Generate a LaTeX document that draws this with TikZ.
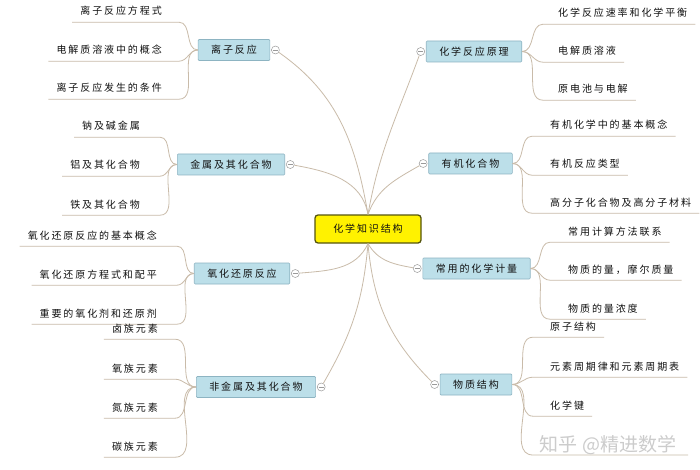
\documentclass[tikz,border=0pt]{standalone}
\usepackage{fontspec}
\setmainfont{Noto Sans CJK SC}[LetterSpace=19]
\newfontfamily\markfont{Noto Sans CJK SC}
\usepackage{xcolor}
\usetikzlibrary{calc, positioning}

\definecolor{topicblue}{HTML}{BCDFE9}
\definecolor{topicline}{HTML}{8DB4C2}
\definecolor{hubline}{HTML}{55550F}
\definecolor{linkgray}{HTML}{C9BBA9}
\definecolor{knobgray}{HTML}{9A9A9A}
\definecolor{inkgray}{HTML}{111111}

\tikzset{
    hub/.style={draw=hubline, fill=yellow, line width=1.3pt, rounded corners=3pt,
        minimum width=106, minimum height=28, text=inkgray, font=\fontsize{10}{12}\selectfont},
    topic/.style={draw=topicline, fill=topicblue, line width=0.6pt, rounded corners=1pt,
        minimum height=21, inner xsep=13, text=inkgray, font=\fontsize{10}{12}\selectfont},
    leaf/.style={inner xsep=0, inner ysep=0, minimum height=21, text height=8.5, text depth=1.5,
        text=inkgray, font=\fontsize{10}{12}\selectfont},
    knob/.style={circle, draw=knobgray, fill=white, line width=0.5pt, inner sep=0, minimum size=8,
        path picture={\draw[knobgray, line width=0.5pt]
            ([xshift=1.5]path picture bounding box.west) -- ([xshift=-1.5]path picture bounding box.east);}},
    link/.style={draw=linkgray, line width=0.8pt}
}

\begin{document}
\begin{tikzpicture}[x=1pt, y=-1pt]
    \useasboundingbox[fill=white] (0, 0) rectangle (700, 470);

    % centre
    \node[hub] (hub) at (368, 229) {化学知识结构};

    % main topics
    \node[topic] (ionic) at (234, 50) {离子反应};
    \node[topic] (metal) at (231, 164.5) {金属及其化合物};
    \node[topic] (redox) at (242, 273.5) {氧化还原反应};
    \node[topic] (nonmetal) at (256, 387) {非金属及其化合物};
    \node[topic] (principle) at (474, 51.5) {化学反应原理};
    \node[topic] (organic) at (470.5, 163.5) {有机化合物};
    \node[topic] (measure) at (476.5, 268.5) {常用的化学计量};
    \node[topic] (structure) at (476, 384.5) {物质结构};

    \foreach \t in {ionic, metal, redox, nonmetal}
        \node[knob, right=1 of \t] (\t-k) {};
    \foreach \t in {principle, organic, measure, structure}
        \node[knob, left=1 of \t] (\t-k) {};

    % links from the centre
    \draw[link] (hub.north) to[out=100, in=-35] (ionic-k);
    \draw[link] (hub.north) to[out=100, in=-10] (metal-k);
    \draw[link] (hub.south) to[out=-115, in=5] (redox-k);
    \draw[link] (hub.south) to[out=-95, in=60] (nonmetal-k);
    \draw[link] (hub.north) to[out=80, in=-110] (principle-k);
    \draw[link] (hub.north) to[out=70, in=-150] (organic-k);
    \draw[link] (hub.south) to[out=-60, in=170] (measure-k);
    \draw[link] (hub.south) to[out=-85, in=135] (structure-k);

    % leaves on the left
    \foreach \y/\txt [count=\i] in {11.5/离子反应方程式, 50.5/电解质溶液中的概念, 88.5/离子反应发生的条件} {
        \node[leaf, anchor=east] (ionic-\i) at (162, \y) {\txt};
        \draw[link] ([xshift=-8]ionic-\i.south west) -- ([xshift=17]ionic-\i.south east) to[out=0, in=180] (ionic.west);
    }
    \foreach \y/\txt [count=\i] in {126.5/钠及碱金属, 165.5/铝及其化合物, 204.5/铁及其化合物} {
        \node[leaf, anchor=east] (metal-\i) at (140, \y) {\txt};
        \draw[link] ([xshift=-8]metal-\i.south west) -- ([xshift=20]metal-\i.south east) to[out=0, in=180] (metal.west);
    }
    \foreach \y/\txt [count=\i] in {235.5/氧化还原反应的基本概念, 274.5/氧化还原方程式和配平, 313.5/重要的氧化剂和还原剂} {
        \node[leaf, anchor=east] (redox-\i) at (157, \y) {\txt};
        \draw[link] ([xshift=-8]redox-\i.south west) -- ([xshift=20]redox-\i.south east) to[out=0, in=180] (redox.west);
    }
    \foreach \y/\txt [count=\i] in {328.5/卤族元素, 368.5/氧族元素, 407.5/氮族元素, 446.5/碳族元素} {
        \node[leaf, anchor=east] (nonmetal-\i) at (158, \y) {\txt};
        \draw[link] ([xshift=-8]nonmetal-\i.south west) -- ([xshift=17]nonmetal-\i.south east) to[out=0, in=180] (nonmetal.west);
    }

    % leaves on the right
    \foreach \y/\txt [count=\i] in {13.5/化学反应速率和化学平衡, 51.5/电解质溶液, 89.5/原电池与电解} {
        \node[leaf, anchor=west] (principle-\i) at (558, \y) {\txt};
        \draw[link] (principle.east) to[out=0, in=180] ([xshift=-15]principle-\i.south west) -- ([xshift=8]principle-\i.south east);
    }
    \foreach \y/\txt [count=\i] in {125.5/有机化学中的基本概念, 164.5/有机反应类型, 202.5/高分子化合物及高分子材料} {
        \node[leaf, anchor=west] (organic-\i) at (550, \y) {\txt};
        \draw[link] (organic.east) to[out=0, in=180] ([xshift=-18]organic-\i.south west) -- ([xshift=8]organic-\i.south east);
    }
    \foreach \y/\txt [count=\i] in {231.5/常用计算方法联系, 269.5/物质的量，摩尔质量, 308.5/物质的量浓度} {
        \node[leaf, anchor=west] (measure-\i) at (568, \y) {\txt};
        \draw[link] (measure.east) to[out=0, in=180] ([xshift=-18]measure-\i.south west) -- ([xshift=8]measure-\i.south east);
    }
    \foreach \y/\txt [count=\i] in {326.5/原子结构, 366.5/元素周期律和元素周期表, 405.5/化学键} {
        \node[leaf, anchor=west] (structure-\i) at (550, \y) {\txt};
        \draw[link] (structure.east) to[out=0, in=180] ([xshift=-17]structure-\i.south west) -- ([xshift=8]structure-\i.south east);
    }
    \coordinate (structure-4a) at (533, 455);
    \coordinate (structure-4b) at (688, 455);
    \draw[link] (structure.east) to[out=0, in=180] (structure-4a) -- (structure-4b);

    % watermark
    \node[text=gray!40, font=\markfont\fontsize{19}{20}\selectfont, inner sep=0] (mark) at (608, 445) {知乎 @精进数学};
\end{tikzpicture}
\end{document}
